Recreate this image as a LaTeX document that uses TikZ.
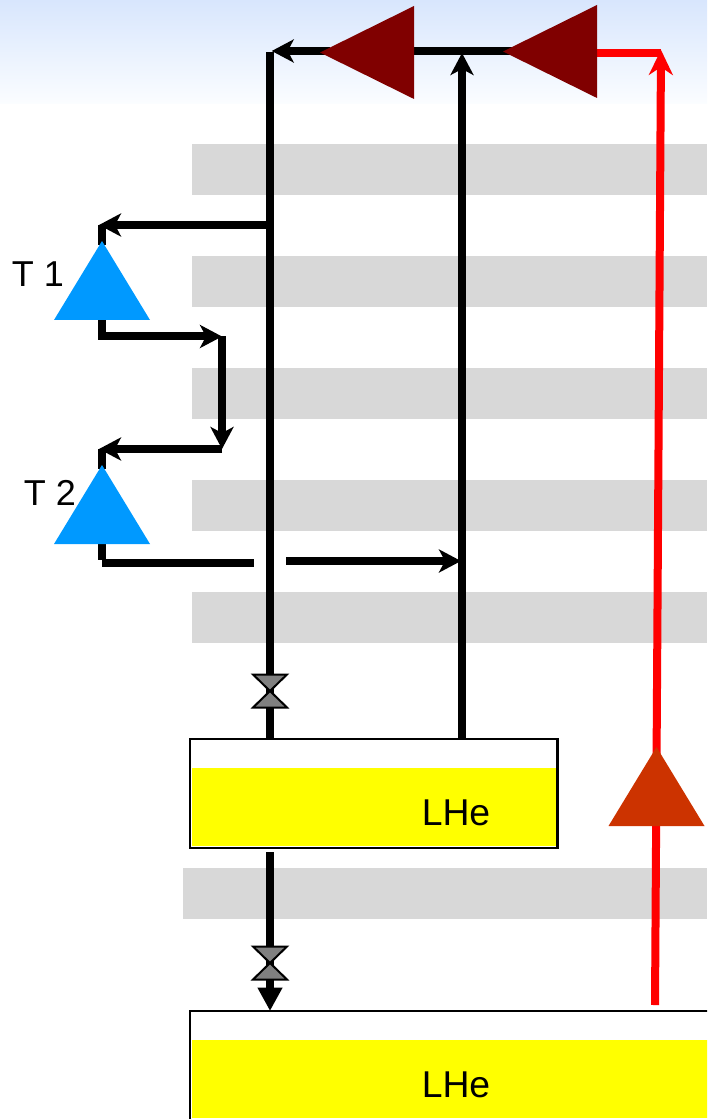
\documentclass[tikz,border=0pt]{standalone}
\usepackage{fontspec}
\setmainfont{Liberation Sans}
\usetikzlibrary{arrows.meta,shapes.geometric}
\definecolor{bar}{HTML}{D8D8D8}
\definecolor{skytop}{HTML}{D8E6FD}
\definecolor{skybot}{HTML}{FBFDFF}
\definecolor{maroonp}{HTML}{800000}
\definecolor{bluep}{HTML}{0099FF}
\definecolor{orangep}{HTML}{CC3300}
\definecolor{valvegray}{HTML}{808080}
\definecolor{pureyellow}{RGB}{255,255,0}
\definecolor{purered}{RGB}{255,0,0}
\tikzset{
  graybar/.style={fill=bar,draw=none},
  pipe/.style={line width=6pt,draw=black,line cap=butt,line join=miter},
  flow/.style={pipe,-{Stealth[length=16.5pt,width=17.25pt,inset=4.5pt]}},
  redpipe/.style={pipe,draw=purered},
  redflow/.style={redpipe,-{Stealth[length=18.75pt,width=18pt,inset=6pt]}},
  filltip/.style={pipe,-{Triangle[length=17.5pt,width=17.5pt]}},
  pump/.style={isosceles triangle,isosceles triangle stretches,inner sep=0pt,outer sep=0pt,draw=none},
  pumpup/.style={pump,shape border rotate=90,minimum width=72pt,minimum height=59.25pt},
  pumpleft/.style={pump,shape border rotate=180,minimum width=69.75pt,minimum height=70.5pt},
  label/.style={font=\fontsize{27}{30}\selectfont,inner sep=0pt,text=black},
  tanklabel/.style={font=\fontsize{28}{30}\selectfont,inner sep=0pt,text=black},
  tankbox/.style={draw=black,line width=1.9pt,fill=white,rectangle,inner sep=0pt,outer sep=0pt,anchor=north west},
  liquid/.style={fill=pureyellow,draw=none},
  valvebody/.pic={
    \draw[fill=valvegray,draw=black,line width=1.5pt,line join=miter]
      (-17,-16.5) -- (17,-16.5) -- (0,0) -- cycle;
    \draw[fill=valvegray,draw=black,line width=1.5pt,line join=miter]
      (-17,16.5) -- (17,16.5) -- (0,0) -- cycle;
  }
}
\begin{document}
\begin{tikzpicture}[x=0.75pt,y=-0.75pt]
\clip (0,0) rectangle (707,1119);
\useasboundingbox (0,0) rectangle (707,1119);
% background
\shade[top color=skytop,bottom color=skybot] (0,0) rectangle (707,104);
\foreach \yy in {144,256,368,480,592} \fill[graybar] (192,\yy) rectangle (707,\yy+51);
\fill[graybar] (183,868) rectangle (707,919);
% tanks
\node[tankbox,minimum width=275.6pt,minimum height=81.6pt] (tankA) at (190,739) {};
\node[tankbox,minimum width=600pt,minimum height=200pt] (tankB) at (190,1011) {};
\fill[liquid] (191.5,768) rectangle (556,846);
\fill[liquid] (191.5,1040) rectangle (800,1118);
\node[tanklabel] (lheA) at (456,813) {LHe};
\node[tanklabel] (lheB) at (456,1085) {LHe};
% junction coordinates
\coordinate (top) at (270,51.7);
\coordinate (topL) at (271.7,51);
\coordinate (join) at (462,53);
\coordinate (redcorner) at (661,50);
\coordinate (redL) at (597,53);
\coordinate (redR) at (661,53);
\coordinate (midA) at (414,51);
\coordinate (midB) at (512,51);
\coordinate (apexA) at (330,51);
\coordinate (tapA) at (270,225);
\coordinate (cA) at (99,225);
\coordinate (cAs) at (102,225);
\coordinate (dA) at (98,336.5);
\coordinate (dAs) at (102,340.5);
\coordinate (eA) at (222,336.5);
\coordinate (eB) at (222,449);
\coordinate (cB) at (99,449);
\coordinate (cBs) at (102,449);
\coordinate (dBs) at (102,560);
\coordinate (dB) at (102,563);
\coordinate (gapL) at (254,563);
\coordinate (gapR) at (286,561);
\coordinate (retur) at (461,561);
\coordinate (tankAtop) at (270,739);
\coordinate (tankAret) at (462,739);
\coordinate (tankAbot) at (270,852);
\coordinate (tankBtop) at (270,1011);
\coordinate (redstart) at (655,1005);
\coordinate (t1in) at (102,245);
\coordinate (t1out) at (102,316);
\coordinate (t2in) at (102,469);
\coordinate (t2out) at (102,540);
% connectors
\draw[redflow] (redstart) -- (redcorner);
\draw[redpipe] (redL) -- (redR);
\draw[pipe] (midB) -- (midA);
\draw[flow] (apexA) -- (topL);
\draw[pipe] (tankAtop) -- (top);
\draw[flow] (tankAret) -- (join);
\draw[flow] (tapA) -- (cA);
\draw[flow] (dA) -- (eA);
\draw[flow] (eA) -- (eB);
\draw[flow] (eB) -- (cB);
\draw[pipe] (dB) -- (gapL);
\draw[flow] (gapR) -- (retur);
\draw[filltip] (tankAbot) -- (tankBtop);
\draw[pipe] (cAs) -- (t1in);
\draw[pipe] (t1out) -- (dAs);
\draw[pipe] (cBs) -- (t2in);
\draw[pipe] (t2out) -- (dBs);
% triangles (placed by their apexes)
\node[pumpleft,fill=maroonp,anchor=apex] (compA) at (320,52.5) {};
\node[pumpleft,fill=maroonp,anchor=apex] (compB) at (503,51.5) {};
\node[pumpup,fill=orangep,anchor=apex] (pumpR) at (656.5,747) {};
\node[pumpup,fill=bluep,anchor=apex] (T1) at (102,241) {};
\node[pumpup,fill=bluep,anchor=apex] (T2) at (102,465) {};
% valves
\pic at (270,691) {valvebody};
\pic at (270,963) {valvebody};
% labels
\node[label] (t1label) at (38,274) {T 1};
\node[label] (t2label) at (50,493) {T 2};
\end{tikzpicture}
\end{document}
